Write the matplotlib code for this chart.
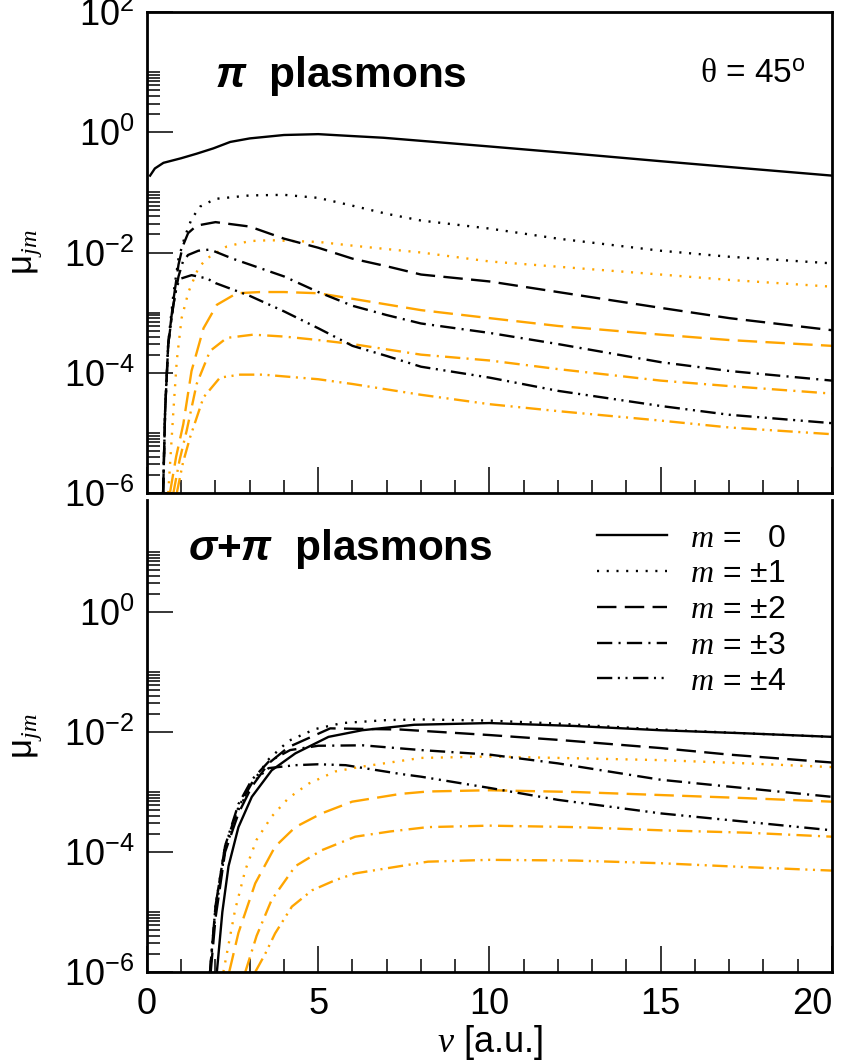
import numpy as np
import matplotlib
matplotlib.use('Agg')
import matplotlib.pyplot as plt
from matplotlib.ticker import FixedLocator, NullFormatter

plt.rcParams['font.family'] = ['Liberation Sans', 'DejaVu Sans']
plt.rcParams['mathtext.fontset'] = 'custom'
plt.rcParams['mathtext.rm'] = 'Liberation Sans'
plt.rcParams['mathtext.it'] = 'Liberation Serif:italic'
plt.rcParams['mathtext.bf'] = 'Liberation Sans:bold'
plt.rcParams['mathtext.bfit'] = 'Liberation Sans:italic:bold'
plt.rcParams['mathtext.sf'] = 'Liberation Serif'
plt.rcParams['lines.scale_dashes'] = False

ORANGE = '#FFA500'

# ---- top panel: pi plasmons (nu in a.u., mu_jm) ----
pi_k_m0_nu = [0.09, 0.23, 0.48, 1.0, 1.45, 1.94, 2.43, 3.0, 4.0, 5.0, 5.9, 6.9, 8.0, 10, 12.5, 15, 17.5, 20]
pi_k_m0_mu = [1.9e-1, 2.5e-1, 3.1e-1, 3.7e-1, 4.4e-1, 5.4e-1, 6.9e-1, 7.9e-1, 9.0e-1, 9.3e-1, 8.7e-1, 8.1e-1, 7.2e-1, 5.8e-1, 4.4e-1, 3.3e-1, 2.5e-1, 1.9e-1]
pi_k_m1_nu = [0.47, 0.53, 0.62, 0.77, 0.92, 1.1, 1.3, 1.55, 2, 3, 4, 5, 6, 7, 8, 10, 12, 15, 17, 20]
pi_k_m1_mu = [1e-6, 2.5e-5, 3.2e-4, 2.0e-3, 7.9e-3, 1.8e-2, 3.6e-2, 5.8e-2, 7.8e-2, 8.9e-2, 9.1e-2, 8.1e-2, 6.0e-2, 4.4e-2, 3.4e-2, 2.5e-2, 1.7e-2, 1.07e-2, 8.5e-3, 6.6e-3]
pi_k_m2_nu = [0.47, 0.53, 0.62, 0.77, 0.92, 1.05, 1.2, 1.45, 2, 3, 4, 5, 6, 7, 8, 10, 12, 15, 17, 20]
pi_k_m2_mu = [1e-6, 2.4e-5, 3.0e-4, 1.6e-3, 6.3e-3, 1.3e-2, 2.1e-2, 2.8e-2, 3.2e-2, 2.7e-2, 1.7e-2, 1.2e-2, 7.9e-3, 5.9e-3, 4.3e-3, 3.3e-3, 2.2e-3, 1.2e-3, 8.1e-4, 5.1e-4]
pi_k_m3_nu = [0.47, 0.53, 0.62, 0.77, 0.92, 1.05, 1.2, 1.5, 1.84, 2.5, 3, 4, 5, 6, 7, 8, 10, 12, 15, 17, 20]
pi_k_m3_mu = [1e-6, 2.4e-5, 3.0e-4, 1.35e-3, 4.0e-3, 7.1e-3, 9.1e-3, 1.07e-2, 1.12e-2, 7.9e-3, 6.3e-3, 4.0e-3, 2.2e-3, 1.3e-3, 9.1e-4, 6.6e-4, 4.6e-4, 3.0e-4, 1.5e-4, 1.07e-4, 7.4e-5]
pi_k_m4_nu = [0.47, 0.53, 0.62, 0.77, 0.87, 1.0, 1.3, 1.75, 2, 3, 4, 5, 6, 7, 8, 10, 12, 15, 17, 20]
pi_k_m4_mu = [1e-6, 2.4e-5, 3.0e-4, 1.35e-3, 2.8e-3, 3.7e-3, 4.2e-3, 3.7e-3, 3.1e-3, 1.9e-3, 1.05e-3, 5.5e-4, 2.8e-4, 1.9e-4, 1.26e-4, 8.3e-5, 5.0e-5, 2.8e-5, 2.0e-5, 1.45e-5]
pi_o_m1_nu = [0.62, 0.77, 0.87, 1.01, 1.21, 1.5, 1.74, 2.33, 3.0, 3.6, 5, 6, 8, 10, 12, 15, 17, 20]
pi_o_m1_mu = [1e-6, 2.3e-5, 1.6e-4, 8.1e-4, 2.2e-3, 5.5e-3, 7.9e-3, 1.26e-2, 1.55e-2, 1.6e-2, 1.5e-2, 1.3e-2, 1.0e-2, 7.1e-3, 5.8e-3, 4.3e-3, 3.5e-3, 2.7e-3]
pi_o_m2_nu = [0.67, 0.85, 1.06, 1.3, 1.65, 2.04, 2.62, 3.3, 4, 5, 6, 8, 10, 12, 15, 17, 20]
pi_o_m2_mu = [1e-6, 4.0e-6, 1.4e-5, 1.07e-4, 5.5e-4, 1.35e-3, 2.1e-3, 2.2e-3, 2.2e-3, 2.1e-3, 1.7e-3, 1.1e-3, 8.1e-4, 6.0e-4, 4.3e-4, 3.5e-4, 2.8e-4]
pi_o_m3_nu = [0.77, 0.95, 1.16, 1.45, 1.84, 2.33, 3.1, 4, 5, 6, 8, 10, 12, 15, 17, 20]
pi_o_m3_mu = [1e-6, 3.5e-6, 1.1e-5, 6.5e-5, 2.3e-4, 3.8e-4, 4.3e-4, 4.0e-4, 3.5e-4, 3.0e-4, 2.0e-4, 1.6e-4, 1.15e-4, 7.4e-5, 6.0e-5, 4.5e-5]
pi_o_m4_nu = [0.87, 1.05, 1.26, 1.65, 2.13, 2.72, 3.4, 4, 5, 6, 8, 10, 12, 15, 17, 20]
pi_o_m4_mu = [1e-6, 3.2e-6, 8.5e-6, 3.9e-5, 8.3e-5, 9.3e-5, 9.3e-5, 8.7e-5, 7.8e-5, 6.5e-5, 4.3e-5, 3.0e-5, 2.3e-5, 1.6e-5, 1.23e-5, 9.5e-6]

# ---- bottom panel: sigma+pi plasmons ----
sp_k_m0_nu = [2.04, 2.2, 2.38, 2.67, 3.06, 3.64, 4.33, 5.3, 6.28, 7.8, 10, 12.5, 15, 17.5, 20]
sp_k_m0_mu = [1e-6, 1e-5, 5.8e-5, 2.6e-4, 8.3e-4, 2.3e-3, 4.4e-3, 8.3e-3, 1.07e-2, 1.32e-2, 1.41e-2, 1.26e-2, 1.07e-2, 9.5e-3, 8.3e-3]
sp_k_m1_nu = [1.84, 2.0, 2.28, 2.67, 3.06, 3.55, 4.13, 4.91, 5.7, 7, 8, 10, 12, 15, 17.5, 20]
sp_k_m1_mu = [1e-6, 1e-5, 1.07e-4, 5.0e-4, 1.4e-3, 3.5e-3, 7.1e-3, 1.12e-2, 1.41e-2, 1.58e-2, 1.62e-2, 1.55e-2, 1.38e-2, 1.1e-2, 9.5e-3, 8.3e-3]
sp_k_m2_nu = [1.86, 2.0, 2.28, 2.67, 3.06, 3.55, 4.13, 5.35, 7.4, 10, 12, 15, 17, 20]
sp_k_m2_mu = [1e-6, 7.9e-6, 1e-4, 4.4e-4, 1.23e-3, 3.0e-3, 5.6e-3, 1.15e-2, 1.1e-2, 8.9e-3, 7.4e-3, 5.4e-3, 4.2e-3, 3.1e-3]
sp_k_m3_nu = [1.84, 2.0, 2.28, 2.67, 3.06, 3.55, 4.18, 5, 6.3, 8, 10, 12, 15, 17, 20]
sp_k_m3_mu = [1e-6, 1.26e-5, 1.26e-4, 6.3e-4, 1.6e-3, 3.2e-3, 5.0e-3, 5.9e-3, 6.0e-3, 5.0e-3, 4.2e-3, 3.0e-3, 1.6e-3, 1.23e-3, 8.3e-4]
sp_k_m4_nu = [1.84, 2.0, 2.28, 2.67, 3.06, 3.55, 4.33, 5.0, 5.8, 7.4, 8, 10, 12, 15, 17, 20]
sp_k_m4_mu = [1e-6, 1.26e-5, 1.26e-4, 5.6e-4, 1.4e-3, 2.5e-3, 2.8e-3, 2.9e-3, 2.8e-3, 2.0e-3, 1.8e-3, 1.17e-3, 7.4e-4, 4.4e-4, 3.4e-4, 2.3e-4]
sp_o_m1_nu = [2.23, 2.57, 2.87, 3.2, 3.64, 4.13, 4.72, 5.5, 6.18, 8, 10, 12, 15, 17.5, 20]
sp_o_m1_mu = [1e-6, 1.07e-5, 5.0e-5, 1.6e-4, 3.9e-4, 7.9e-4, 1.38e-3, 2.2e-3, 2.6e-3, 3.7e-3, 3.9e-3, 3.7e-3, 3.4e-3, 3.0e-3, 2.6e-3]
sp_o_m2_nu = [2.4, 2.67, 3.16, 3.74, 4.33, 5.1, 5.99, 7.4, 8.2, 10, 12.5, 15, 17.5, 20]
sp_o_m2_mu = [1e-6, 4.5e-6, 3.0e-5, 1.23e-4, 2.6e-4, 4.4e-4, 6.9e-4, 9.3e-4, 1.02e-3, 1.07e-3, 1.0e-3, 8.9e-4, 7.9e-4, 6.9e-4]
sp_o_m3_nu = [2.87, 3.2, 3.64, 4.33, 5.1, 6.08, 7.1, 8.2, 10, 12.5, 15, 17.5, 20]
sp_o_m3_mu = [1e-6, 4.0e-6, 1.6e-5, 5.8e-5, 1.07e-4, 1.8e-4, 2.2e-4, 2.6e-4, 2.75e-4, 2.6e-4, 2.3e-4, 2.1e-4, 1.8e-4]
sp_o_m4_nu = [3.16, 3.45, 3.74, 4.23, 4.82, 5.5, 6.08, 8.2, 10, 12.5, 15, 17.5, 20]
sp_o_m4_mu = [1e-6, 2.0e-6, 4.4e-6, 1.23e-5, 2.3e-5, 3.4e-5, 4.4e-5, 6.9e-5, 7.4e-5, 7.2e-5, 6.5e-5, 5.6e-5, 4.9e-5]

legend_labels = ['$m$ =   0', '$m$ = ±1', '$m$ = ±2', '$m$ = ±3', '$m$ = ±4']
dashes = ['-', (0, (1.5, 5.5)), (0, (14, 6)), (0, (11, 4.5, 1.5, 4.5)), (0, (11, 4, 1.5, 4, 1.5, 4))]

fig = plt.figure(figsize=(8.45, 10.63), dpi=100)
ax1 = fig.add_axes([147/845, 1-493/1063, 685/845, 481/1063])
ax2 = fig.add_axes([147/845, 1-972/1063, 685/845, 472/1063])

top_black = [(pi_k_m0_nu, pi_k_m0_mu), (pi_k_m1_nu, pi_k_m1_mu), (pi_k_m2_nu, pi_k_m2_mu),
             (pi_k_m3_nu, pi_k_m3_mu), (pi_k_m4_nu, pi_k_m4_mu)]
top_orange = [(pi_o_m1_nu, pi_o_m1_mu), (pi_o_m2_nu, pi_o_m2_mu), (pi_o_m3_nu, pi_o_m3_mu), (pi_o_m4_nu, pi_o_m4_mu)]
bot_black = [(sp_k_m0_nu, sp_k_m0_mu), (sp_k_m1_nu, sp_k_m1_mu), (sp_k_m2_nu, sp_k_m2_mu),
             (sp_k_m3_nu, sp_k_m3_mu), (sp_k_m4_nu, sp_k_m4_mu)]
bot_orange = [(sp_o_m1_nu, sp_o_m1_mu), (sp_o_m2_nu, sp_o_m2_mu), (sp_o_m3_nu, sp_o_m3_mu), (sp_o_m4_nu, sp_o_m4_mu)]

handles = []
for ax, blacks, oranges in [(ax1, top_black, top_orange), (ax2, bot_black, bot_orange)]:
    for i, (x, y) in enumerate(oranges):
        ax.plot(x, y, color=ORANGE, lw=1.7, linestyle=dashes[i+1], dash_capstyle='butt')
    hs = []
    for i, (x, y) in enumerate(blacks):
        h, = ax.plot(x, y, color='black', lw=1.7, linestyle=dashes[i], dash_capstyle='butt', label=legend_labels[i])
        hs.append(h)
    handles = hs
    ax.set_yscale('log')
    ax.set_xlim(0, 20)
    ax.xaxis.set_major_locator(FixedLocator([0, 5, 10, 15, 20]))
    ax.xaxis.set_minor_locator(FixedLocator(np.arange(0, 21, 1)))
    ax.yaxis.set_major_locator(FixedLocator([1e-6, 1e-4, 1e-2, 1e0, 1e2]))
    ax.yaxis.set_minor_locator(FixedLocator([k * 10.0**e for e in (-6, -4, -2, 0) for k in range(2, 11)]))
    ax.yaxis.set_minor_formatter(NullFormatter())
    ax.set_yticklabels([r'$\mathregular{10^{-6}}$', r'$\mathregular{10^{-4}}$', r'$\mathregular{10^{-2}}$',
                        r'$\mathregular{10^{0}}$', r'$\mathregular{10^{2}}$'])
    ax.tick_params(which='major', direction='in', length=19, width=1.1, labelsize=26, pad=9)
    ax.tick_params(which='minor', direction='in', length=9.5, width=1.1)
    ax.tick_params(axis='x', which='both', top=False)
    ax.tick_params(axis='y', which='both', right=False)
    for s in ax.spines.values():
        s.set_linewidth(2.0)

ax1.set_ylim(1e-6, 1e2)
ax1.tick_params(axis='x', labelbottom=False)
ax2.set_ylim(1e-6, 10**1.867)
ax2.spines['top'].set_visible(False)
ax2.set_xticklabels(['0', '5', '10', '15', '20'])
ax2.tick_params(axis='x', pad=11)
ax2.get_xticklabels()[-1].set_ha('right')

ax1.text(0.099, 0.844, r'$\mathbfit{\pi}$  plasmons', transform=ax1.transAxes, fontsize=30.5,
         fontweight='bold', va='baseline', ha='left')
ax1.text(0.807, 0.852, r'$\mathsf{\theta}$ = 45$^\mathrm{o}$', transform=ax1.transAxes, fontsize=24,
         va='baseline', ha='left')
ax2.text(0.06, 0.873, r'$\mathbfit{\sigma}$+$\mathbfit{\pi}$  plasmons', transform=ax2.transAxes, fontsize=30.5,
         fontweight='bold', va='baseline', ha='left')

ax2.legend(handles=handles, loc='upper left', bbox_to_anchor=(0.657, 0.95), frameon=False,
           fontsize=23, handlelength=2.2, handletextpad=0.7, labelspacing=0.18,
           borderpad=0, borderaxespad=0)

fig.text(490/845, 1-1043/1063, r'$\nu$ [a.u.]', fontsize=26, ha='center', va='center')
for yc in (252, 736):
    fig.text(28/845, 1-yc/1063, r'$\mathrm{\mu}_{jm}$', fontsize=25, rotation=90, ha='center', va='center')

fig.savefig('out.png', dpi=100)
